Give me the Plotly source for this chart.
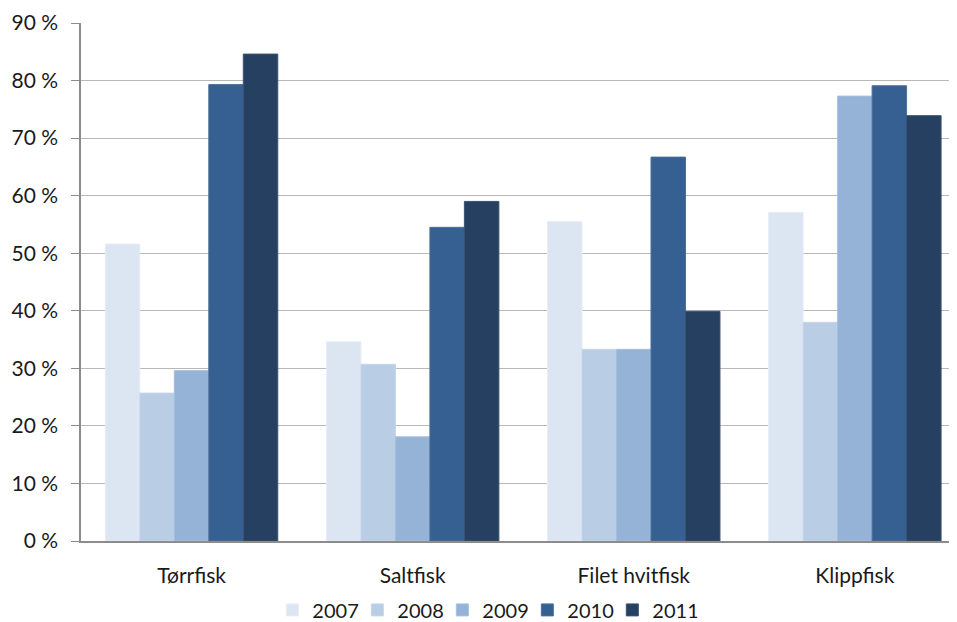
import plotly.graph_objects as go

categories = ["Tørrfisk", "Saltfisk", "Filet hvitfisk", "Klippfisk"]
years = ["2007", "2008", "2009", "2010", "2011"]
v2007 = [51.6, 34.6, 55.5, 57.1]
v2008 = [25.7, 30.7, 33.3, 38.0]
v2009 = [29.6, 18.1, 33.3, 77.3]
v2010 = [79.3, 54.5, 66.7, 79.1]
v2011 = [84.6, 59.0, 39.9, 73.9]
series = [v2007, v2008, v2009, v2010, v2011]
colors = ["#dce6f2", "#b9cde5", "#95b3d7", "#376092", "#254061"]
line_colors = ["#e6edf6", "#c6d6ea", "#a5bedd", "#4d6f98", "#3c5270"]
tick_vals = [0, 10, 20, 30, 40, 50, 60, 70, 80, 90]
tick_text = ["0 %", "10 %", "20 %", "30 %", "40 %", "50 %", "60 %", "70 %", "80 %", "90 %"]

font_family = "Lato, 'Open Sans', sans-serif"

fig = go.Figure()
for yr, vals, c, lc in zip(years, series, colors, line_colors):
    fig.add_trace(go.Bar(
        name=yr, x=categories, y=vals,
        marker=dict(color=c, line=dict(color=lc, width=1)),
    ))

# page body has an 8px default margin, so the figure is sized to end at the window edge
fig.update_layout(
    width=949, height=614,
    margin=dict(l=73, r=0, t=15, b=81, pad=0, autoexpand=False),
    paper_bgcolor="white", plot_bgcolor="white",
    barmode="group", bargap=0.22, bargroupgap=0,
    font=dict(family=font_family, color="#1a1a1a"),
    showlegend=True,
    legend=dict(
        orientation="h",
        x=0.461, xanchor="center", y=-0.133, yanchor="middle",
        font=dict(size=20, color="#1a1a1a"),
        itemwidth=30, traceorder="normal",
        entrywidth=40, entrywidthmode="pixels",
    ),
    xaxis=dict(
        range=[-0.5, 3.462], automargin=False,
        showline=True, linecolor="#8c8c8c", linewidth=1.5,
        showgrid=False, ticks="", tickfont=dict(size=21, color="#1a1a1a"),
        ticklabelstandoff=15,
    ),
    yaxis=dict(
        range=[0, 90], tickvals=tick_vals, ticktext=tick_text, automargin=False,
        showline=True, linecolor="#8c8c8c", linewidth=1.5,
        showgrid=True, gridcolor="#b8b8b8", gridwidth=1.3,
        ticks="outside", ticklen=8, tickcolor="#8c8c8c", tickwidth=1.3,
        tickfont=dict(size=21, color="#1a1a1a"),
        ticklabelstandoff=9,
        zeroline=False,
    ),
)

fig.write_html("out.html")
